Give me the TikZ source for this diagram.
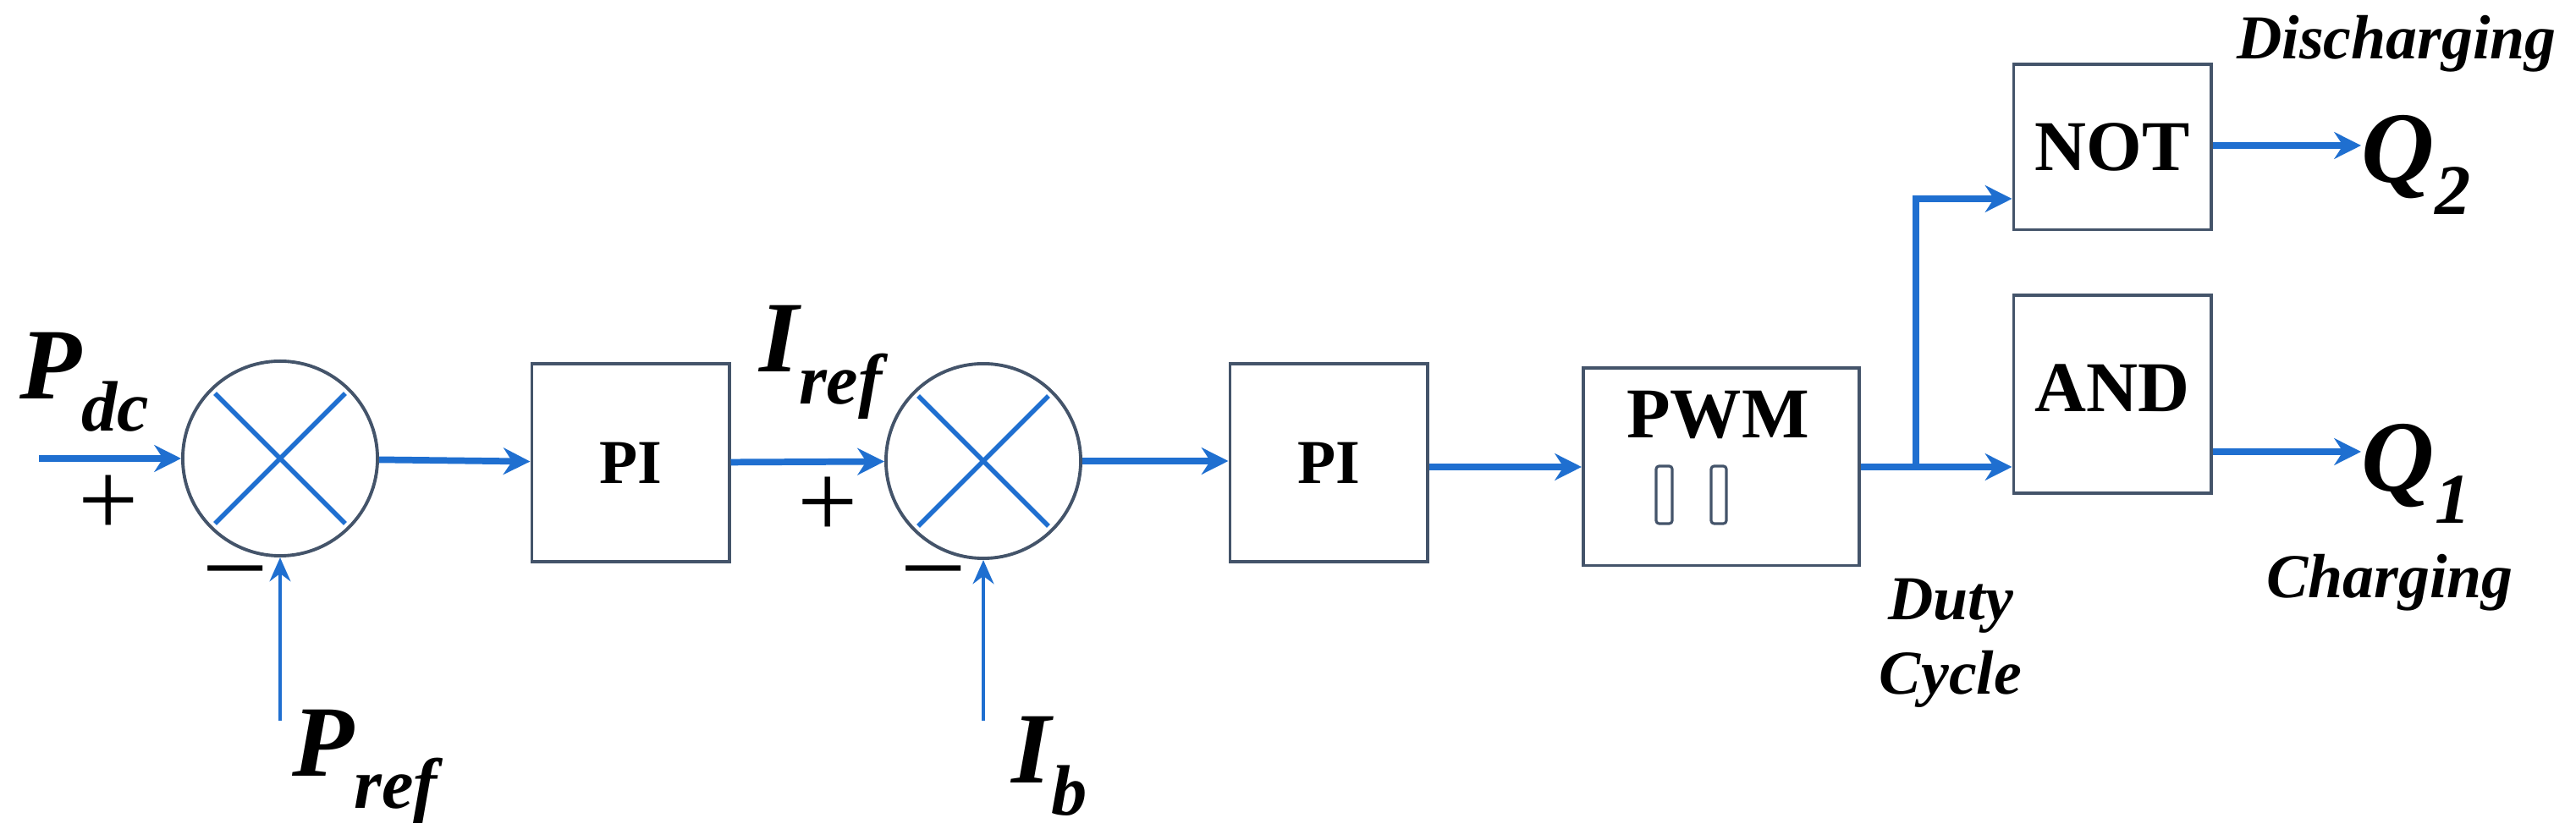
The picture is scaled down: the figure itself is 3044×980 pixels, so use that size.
\documentclass[tikz,border=0pt]{standalone}
\usepackage{fontspec}
\setmainfont{Liberation Serif}
\usetikzlibrary{calc,positioning,arrows.meta}
\definecolor{sigblue}{HTML}{1F6FD0}
\definecolor{boxgray}{HTML}{44546A}
\newcommand{\lowsub}[1]{\raisebox{-0.32em}{\fontsize{24}{24}\selectfont #1}}
\tikzset{
  blk/.style={draw=boxgray,line width=1.1pt,minimum width=2.33cm,minimum height=2.34cm,inner sep=0pt},
  sum/.style={draw=boxgray,line width=1.1pt,circle,minimum size=2.3cm,inner sep=0pt},
  sig/.style={draw=sigblue,line width=2.2pt,-{Stealth[length=9pt,width=9pt]}},
  thin sig/.style={draw=sigblue,line width=1.4pt,-{Stealth[length=8pt,width=7pt]}},
  lbl/.style={font=\bfseries\itshape\fontsize{34}{34}\selectfont,inner sep=0pt},
  note/.style={font=\bfseries\itshape\fontsize{21}{25}\selectfont,inner sep=0pt,align=center},
  sgn/.style={font=\fontsize{36}{36}\selectfont,inner sep=0pt}
}
\begin{document}
\begin{tikzpicture}[x=0.01cm,y=-0.01cm]
        \useasboundingbox (0,0) rectangle (3044,980);

        %-------------------------------------------------
        % blocks
        %-------------------------------------------------
        \node[sum] (sumP) at (331,542) {};
        \node[blk] (piP)  at (745,547) {\fontsize{21}{21}\selectfont\bfseries PI};
        \node[sum] (sumI) at (1162,545) {};
        \node[blk] (piI)  at (1570,547) {\fontsize{21}{21}\selectfont\bfseries PI};
        \node[blk,minimum width=3.26cm,minimum height=2.33cm] (pwm) at (2034,552) {};
        \node[blk,minimum height=1.95cm] (notg) at (2496,174) {\fontsize{24}{24}\selectfont\bfseries NOT};
        \node[blk,minimum height=2.34cm,anchor=north] (andg) at (2496,347) {};
        \node[font=\fontsize{24}{24}\selectfont\bfseries] at (2496,459) {AND};
        \node[font=\fontsize{24}{24}\selectfont\bfseries] at (2030,491) {PWM};
        \draw[boxgray,line width=0.9pt,rounded corners=1pt] (1957,551) rectangle (1976,619);
        \draw[boxgray,line width=0.9pt,rounded corners=1pt] (2022,551) rectangle (2040,619);

        % crosses in the summing points
        \foreach \s in {sumP,sumI}{
          \draw[sigblue,line width=1.6pt] ($(\s.center)!0.93!(\s.45)$) -- ($(\s.center)!0.93!(\s.225)$);
          \draw[sigblue,line width=1.6pt] ($(\s.center)!0.93!(\s.135)$) -- ($(\s.center)!0.93!(\s.315)$);
        }

        %-------------------------------------------------
        % free ends
        %-------------------------------------------------
        \coordinate (inPdc)  at (46,542);
        \coordinate (inPref) at (331,852);
        \coordinate (inIb)   at (1162,852);
        \coordinate (split)  at (2264,552);
        \coordinate (outQ2)  at (2790,172);
        \coordinate (outQ1)  at (2790,534);

        %-------------------------------------------------
        % signals
        %-------------------------------------------------
        \draw[sig] (inPdc) -- (sumP);
        \draw[thin sig] (inPref) -- (sumP);
        \draw[sig] (sumP) -- (piP);
        \draw[sig] (piP) -- (sumI);
        \draw[thin sig] (inIb) -- (sumI);
        \draw[sig] (sumI.east) -- (piI.west |- sumI.east);
        \draw[sig] (piI.east |- pwm.west) -- (pwm.west);
        \draw[sig] (pwm.east) -- (andg.west |- split);
        \draw[sig] (split) |- ($(notg.west)+(0,61)$);
        \draw[sig] (notg.east |- outQ2) -- (outQ2);
        \draw[sig] (andg.east |- outQ1) -- (outQ1);

        %-------------------------------------------------
        % labels
        %-------------------------------------------------
        \node[lbl] at (100,452) {P\lowsub{dc}};
        \node[lbl] at (431,906) {P\lowsub{ref}};
        \node[lbl] at (970,428) {I\lowsub{ref}};
        \node[lbl] at (1240,906) {I\lowsub{b}};
        \node[lbl] at (2855,195) {Q\lowsub{2}};
        \node[lbl] at (2855,560) {Q\lowsub{1}};
        \node[sgn] at (128,598) {+};
        \node[sgn] at (978,600) {+};
        \node[sgn] at (278,685) {\textendash};
        \node[sgn] at (1103,685) {\textendash};
        \node[note] at (2832,52) {Discharging};
        \node[note] at (2824,689) {Charging};
        \node[note] at (2305,760) {Duty\\Cycle};
\end{tikzpicture}
\end{document}
